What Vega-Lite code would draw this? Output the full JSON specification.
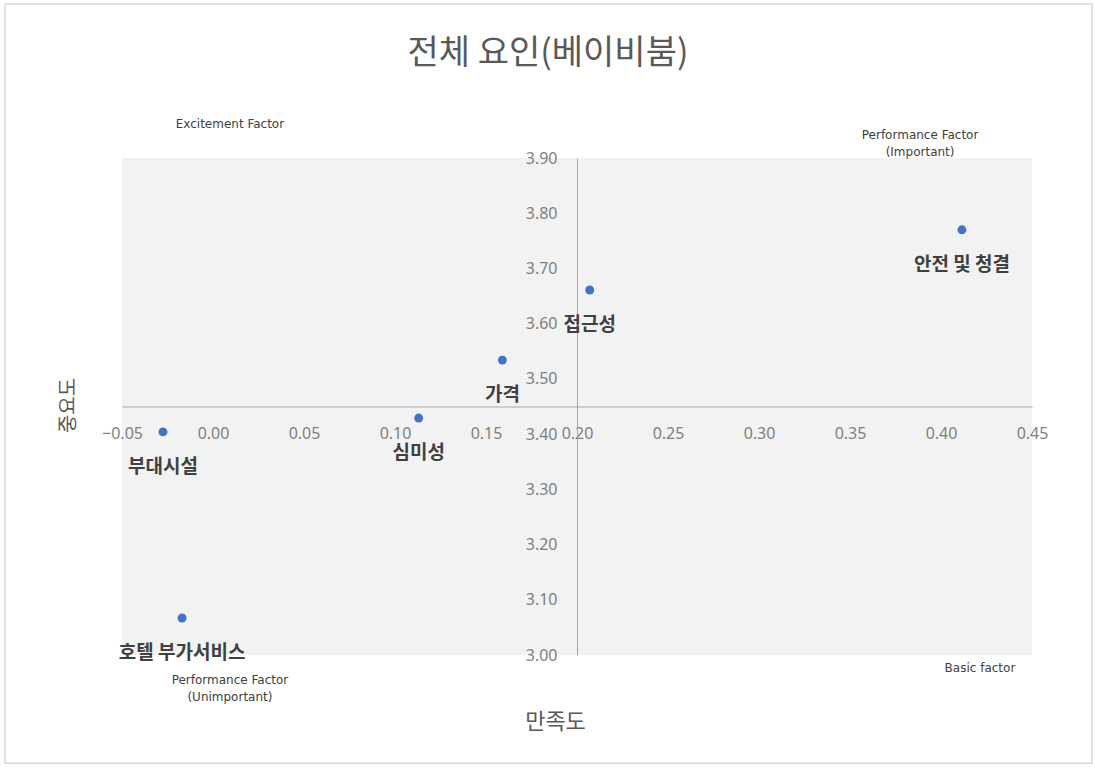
{
  "$schema": "https://vega.github.io/schema/vega-lite/v6.json",
  "width": 910,
  "height": 497,
  "autosize": {"type": "none"},
  "padding": {"left": 122, "top": 158, "right": 63, "bottom": 113},
  "background": "white",
  "title": {
    "text": "전체 요인(베이비붐)",
    "font": "Noto Sans CJK KR",
    "fontSize": 34,
    "fontWeight": "normal",
    "color": "#595959",
    "anchor": "middle",
    "baseline": "middle",
    "offset": -85,
    "dx": -29
  },
  "config": {
    "view": {"fill": "#f2f2f2", "stroke": null},
    "axis": {"grid": false}
  },
  "datasets": {
    "points": [
      {"factor": "안전 및 청결", "satisfaction": 0.4115, "importance": 3.770},
      {"factor": "접근성", "satisfaction": 0.207, "importance": 3.661},
      {"factor": "가격", "satisfaction": 0.159, "importance": 3.534},
      {"factor": "심미성", "satisfaction": 0.113, "importance": 3.429},
      {"factor": "부대시설", "satisfaction": -0.0275, "importance": 3.404},
      {"factor": "호텔 부가서비스", "satisfaction": -0.017, "importance": 3.067}
    ],
    "quadrants": [
      {"label": ["Excitement  Factor"], "qx": 0.0093, "qy": 3.962},
      {"label": ["Performance Factor", "(Important)"], "qx": 0.3885, "qy": 3.942},
      {"label": ["Performance Factor", "(Unimportant)"], "qx": 0.0093, "qy": 2.955},
      {"label": ["Basic factor"], "qx": 0.4214, "qy": 2.976}
    ],
    "frame": [
      {"x0": -0.1143, "x1": 0.4830, "y0": 4.179, "y1": 2.804}
    ]
  },
  "layer": [
    {
      "data": {"name": "frame"},
      "mark": {"type": "rect", "fill": "transparent", "stroke": "#d9d9d9", "strokeWidth": 1.5},
      "encoding": {
        "x": {"field": "x0", "type": "quantitative"},
        "x2": {"field": "x1"},
        "y": {"field": "y0", "type": "quantitative"},
        "y2": {"field": "y1"}
      }
    },
    {
      "data": {"name": "points"},
      "mark": {"type": "circle", "size": 80, "color": "#4472C4", "opacity": 1},
      "encoding": {
        "x": {
          "field": "satisfaction",
          "type": "quantitative",
          "scale": {"domain": [-0.05, 0.45], "nice": false, "zero": false},
          "axis": {
            "orient": "bottom",
            "offset": -248.5,
            "values": [-0.05, 0, 0.05, 0.1, 0.15, 0.2, 0.25, 0.3, 0.35, 0.4, 0.45],
            "format": ".2f",
            "ticks": false,
            "domainColor": "#a6a6a6",
            "domainWidth": 1,
            "labelFont": "Noto Sans",
            "labelFontSize": 16,
            "labelColor": "#7f7f7f",
            "labelPadding": 19,
            "labelFlush": false,
            "labelOverlap": false,
            "title": "만족도",
            "titleFont": "Noto Sans CJK KR",
            "titleFontSize": 22,
            "titleFontWeight": "normal",
            "titleColor": "#595959",
            "titleX": 433,
            "titleY": 315,
            "titleBaseline": "middle",
            "titleAlign": "center"
          }
        },
        "y": {
          "field": "importance",
          "type": "quantitative",
          "scale": {"domain": [3.0, 3.9], "nice": false, "zero": false},
          "axis": {
            "orient": "left",
            "offset": -455,
            "values": [3.0, 3.1, 3.2, 3.3, 3.4, 3.5, 3.6, 3.7, 3.8, 3.9],
            "format": ".2f",
            "ticks": false,
            "domainColor": "#a6a6a6",
            "domainWidth": 1,
            "labelFont": "Noto Sans",
            "labelFontSize": 16,
            "labelColor": "#7f7f7f",
            "labelPadding": 20,
            "labelFlush": false,
            "labelOverlap": false,
            "title": "중요도",
            "titleFont": "Noto Sans CJK KR",
            "titleFontSize": 20,
            "titleFontWeight": "normal",
            "titleColor": "#595959",
            "titleX": -509,
            "titleY": 247,
            "titleAngle": 270,
            "titleBaseline": "middle",
            "titleAlign": "center"
          }
        }
      }
    },
    {
      "data": {"name": "points"},
      "mark": {
        "type": "text",
        "dy": 35,
        "baseline": "middle",
        "align": "center",
        "font": "Noto Sans CJK KR",
        "fontSize": 19,
        "fontWeight": "bold",
        "color": "#404040"
      },
      "encoding": {
        "x": {"field": "satisfaction", "type": "quantitative"},
        "y": {"field": "importance", "type": "quantitative"},
        "text": {"field": "factor"}
      }
    },
    {
      "data": {"name": "quadrants"},
      "mark": {
        "type": "text",
        "baseline": "middle",
        "align": "center",
        "font": "DejaVu Sans",
        "fontSize": 12,
        "lineHeight": 17,
        "color": "#404040"
      },
      "encoding": {
        "x": {"field": "qx", "type": "quantitative"},
        "y": {"field": "qy", "type": "quantitative"},
        "text": {"field": "label"}
      }
    }
  ]
}
